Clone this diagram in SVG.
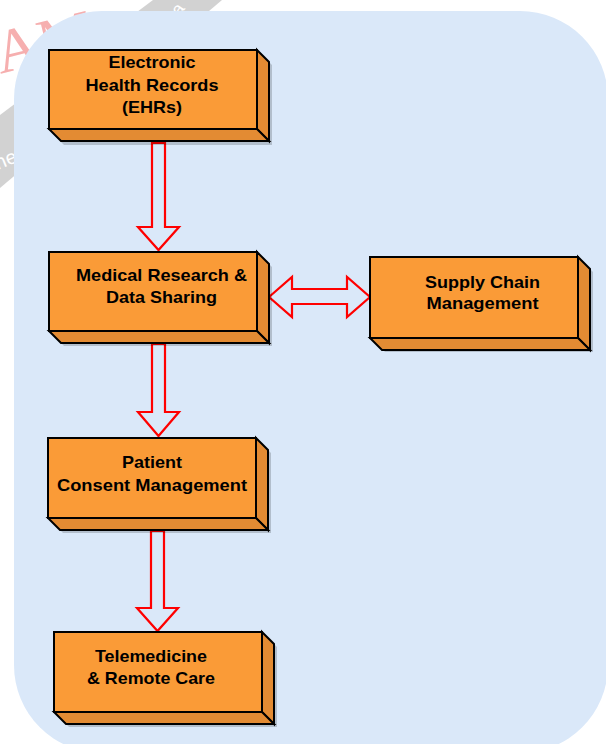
<svg xmlns="http://www.w3.org/2000/svg" width="606" height="744" viewBox="0 0 606 744">
<defs>
<style>
.front{fill:#FA9B37;stroke:#000;stroke-width:2;stroke-linejoin:miter}
.side{fill:#E38B33;stroke:#000;stroke-width:2;stroke-linejoin:miter}
.shadow{fill:#000;opacity:0.18}
.lbl{font-family:"Liberation Sans",Arial,sans-serif;font-weight:bold;font-size:16.4px;fill:#000;text-anchor:middle}
.arrow{fill:none;stroke:#FF0000;stroke-width:2.2;stroke-linejoin:miter}
.wm{font-family:"Liberation Sans",Arial,sans-serif;fill:#FFFFFF}
</style>
</defs>
<rect width="606" height="744" fill="#FFFFFF"/>
<g id="watermark">
<text x="-6" y="66" transform="rotate(-14 30 45)" font-family="'Liberation Serif',serif" font-size="62" fill="#F6AFAF">AM</text>
<polygon points="0,115 153,0 222,0 0,188" fill="#D2D2D2"/>
<text class="wm" x="-6" y="166" font-size="20" transform="rotate(-22 6 158)">ne</text>
<text class="wm" x="171" y="12" font-size="18" transform="rotate(-55 180 6)">a</text>
</g>
<rect id="background" x="14" y="11" width="594" height="742" rx="88" ry="88" fill="#DAE8F9"/>

<g id="connectors">
<path class="arrow" d="M152,143 L165,143 L165,227 L179,227 L158.5,250 L138,227 L152,227 Z"/>
<path class="arrow" d="M152,344 L165,344 L165,412 L179,412 L158.5,436 L138,412 L152,412 Z"/>
<path class="arrow" d="M151,531 L164,531 L164,608 L178,608 L157.5,631 L137,608 L151,608 Z"/>
<path class="arrow" d="M269,297 L292,277 L292,289 L347,289 L347,277 L370,297 L347,317 L347,304 L292,304 L292,317 Z"/>
</g>

<g id="node-ehr">
<polygon class="shadow" points="52,53 260,53 272,65 272,145 64,145 52,133"/>
<polygon class="side" points="257,50 269,62 269,141 257,129"/>
<polygon class="side" points="49,129 257,129 269,141 61,141"/>
<rect class="front" x="49" y="50" width="208" height="79"/>
<text class="lbl" x="152" y="68" textLength="87" lengthAdjust="spacingAndGlyphs">Electronic</text>
<text class="lbl" x="152" y="91" textLength="133" lengthAdjust="spacingAndGlyphs">Health Records</text>
<text class="lbl" x="152" y="113" textLength="60" lengthAdjust="spacingAndGlyphs">(EHRs)</text>
</g>

<g id="node-research">
<polygon class="shadow" points="52,255 260,255 272,267 272,346 64,346 52,334"/>
<polygon class="side" points="257,252 269,264 269,343 257,331"/>
<polygon class="side" points="49,331 257,331 269,343 61,343"/>
<rect class="front" x="49" y="252" width="208" height="79"/>
<text class="lbl" x="161.5" y="281" textLength="171" lengthAdjust="spacingAndGlyphs">Medical Research &amp;</text>
<text class="lbl" x="161.5" y="303" textLength="111" lengthAdjust="spacingAndGlyphs">Data Sharing</text>
</g>

<g id="node-supply">
<polygon class="shadow" points="373,260 581,260 593,272 593,352 385,352 373,340"/>
<polygon class="side" points="578,257 590,269 590,350 578,338"/>
<polygon class="side" points="370,338 578,338 590,350 382,350"/>
<rect class="front" x="370" y="257" width="208" height="81"/>
<text class="lbl" x="482.5" y="288" textLength="115" lengthAdjust="spacingAndGlyphs">Supply Chain</text>
<text class="lbl" x="482.5" y="309" textLength="112" lengthAdjust="spacingAndGlyphs">Management</text>
</g>

<g id="node-consent">
<polygon class="shadow" points="51,441 259,441 271,453 271,533 63,533 51,521"/>
<polygon class="side" points="256,438 268,450 268,530 256,518"/>
<polygon class="side" points="48,518 256,518 268,530 60,530"/>
<rect class="front" x="48" y="438" width="208" height="80"/>
<text class="lbl" x="152" y="468" textLength="60" lengthAdjust="spacingAndGlyphs">Patient</text>
<text class="lbl" x="152" y="491" textLength="190" lengthAdjust="spacingAndGlyphs">Consent Management</text>
</g>

<g id="node-telemedicine">
<polygon class="shadow" points="57,635 265,635 277,647 277,727 69,727 57,715"/>
<polygon class="side" points="262,632 274,644 274,724 262,712"/>
<polygon class="side" points="54,712 262,712 274,724 66,724"/>
<rect class="front" x="54" y="632" width="208" height="80"/>
<text class="lbl" x="151" y="662" textLength="112" lengthAdjust="spacingAndGlyphs">Telemedicine</text>
<text class="lbl" x="151" y="684" textLength="128" lengthAdjust="spacingAndGlyphs">&amp; Remote Care</text>
</g>
</svg>
